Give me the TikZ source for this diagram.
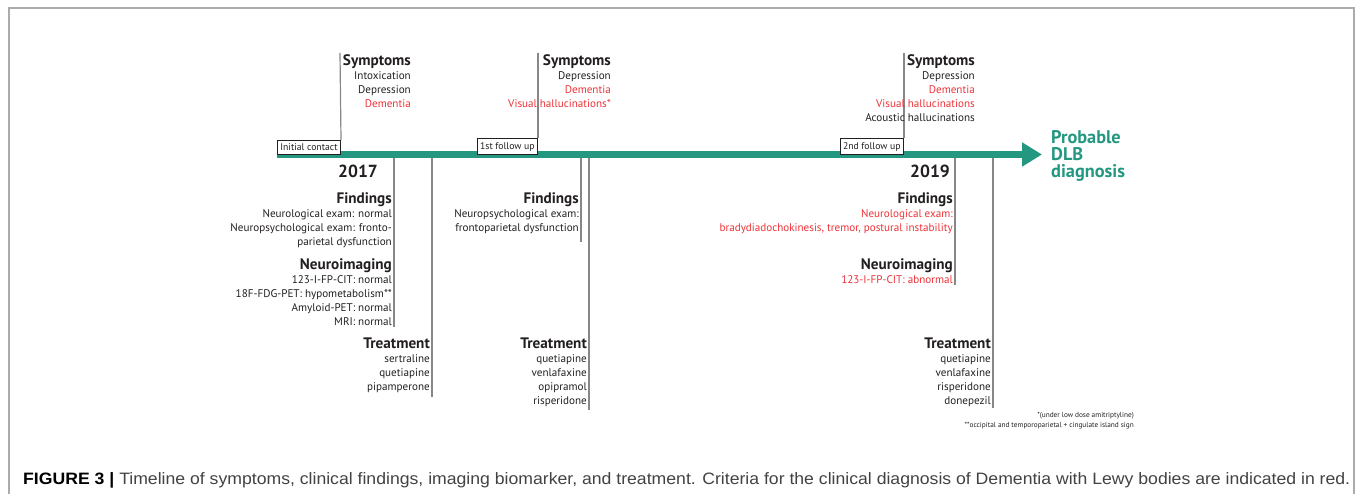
\documentclass[tikz,border=0pt]{standalone}
\usepackage{graphicx}
\usepackage{fontspec}
\setmainfont{PT Sans}
\newfontfamily\capfont{Liberation Sans}
\usetikzlibrary{arrows.meta}
\definecolor{dlbteal}{RGB}{35,151,127}
\definecolor{critred}{RGB}{237,50,55}
\definecolor{txt}{RGB}{35,31,32}
\definecolor{tickgray}{RGB}{135,135,135}
\tikzset{
  visit/.style={draw=txt, fill=white, line width=0.9pt, inner xsep=3pt, inner ysep=3.5pt, text=txt, font=\fontsize{9.7}{11}\selectfont},
  tick/.style={draw=tickgray, line width=1.2pt},
  info/.style={align=right, inner sep=0pt, text=txt, font=\fontsize{11.1}{14}\selectfont},
  year/.style={text=txt, font=\fontsize{17.5}{20}\selectfont\bfseries},
}
\newcommand{\hd}[1]{{\fontsize{15.2}{14}\selectfont\bfseries #1}}
\newcommand{\crit}[1]{\textcolor{critred}{#1}}
\begin{document}
\begin{tikzpicture}[x=1pt,y=-1pt]
	\useasboundingbox (0,0) rectangle (1355,494);
	\draw[tickgray!70, line width=1.2pt] (9,494) |- (1354,8) -- (1354,494);
	% ticks above and below the line
	\coordinate (tstart) at (277,154.5); \coordinate (tend) at (1042,154.5);
	\coordinate (s1) at (340,53); \coordinate (s2) at (538,53); \coordinate (s3) at (904,53);
	\coordinate (f1a) at (394,154); \coordinate (f1b) at (394,327);
	\coordinate (r1a) at (432,154); \coordinate (r1b) at (432,397);
	\coordinate (f2a) at (581,154); \coordinate (f2b) at (581,242);
	\coordinate (r2a) at (589,154); \coordinate (r2b) at (589,410);
	\coordinate (f3a) at (955,154); \coordinate (f3b) at (955,285);
	\coordinate (r3a) at (993,154); \coordinate (r3b) at (993,408);
	\draw[tick] (f1a) -- (f1b); \draw[tick] (r1a) -- (r1b);
	\draw[tick] (f2a) -- (f2b); \draw[tick] (r2a) -- (r2b);
	\draw[tick] (f3a) -- (f3b); \draw[tick] (r3a) -- (r3b);
	% timeline
	\node[anchor=west, inner sep=0pt, align=left, text=dlbteal, font=\fontsize{18.3}{17}\selectfont\bfseries] (diag) at (1051,156) {Probable\\DLB\\diagnosis};
	\draw[dlbteal, line width=7pt, -{Triangle[length=20pt,width=23pt]}] (tstart) -- (tend);
	\node[visit, anchor=south east] (v1) at (341,155) {Initial contact};
	\node[visit, anchor=south east] (v2) at (538,155) {1st follow up};
	\node[visit, anchor=south east] (v3) at (904,155) {2nd follow up};
	\draw[tick] (v1.north east) -- (s1);
	\draw[tick] (v2.north east) -- (s2);
	\draw[tick] (v3.north east) -- (s3);
	\node[year] (y2017) at (358,171) {2017};
	\node[year] (y2019) at (930,171) {2019};
	% symptoms
	\node[info, anchor=north east] (sym1) at (411,54) {\hd{Symptoms}\\Intoxication\\Depression\\\crit{Dementia}};
	\node[info, anchor=north east] (sym2) at (611,54) {\hd{Symptoms}\\Depression\\\crit{Dementia}\\\crit{Visual hallucinations*}};
	\node[info, anchor=north east] (sym3) at (975,54) {\hd{Symptoms}\\Depression\\\crit{Dementia}\\\crit{Visual hallucinations}\\Acoustic hallucinations};
	% findings, imaging, treatment
	\node[info, anchor=north east] (find1) at (392,192) {\hd{Findings}\\Neurological exam: normal\\Neuropsychological exam: fronto-\\parietal dysfunction};
	\node[info, anchor=north east] (img1) at (392,258) {\hd{Neuroimaging}\\123-I-FP-CIT: normal\\18F-FDG-PET: hypometabolism**\\Amyloid-PET: normal\\MRI: normal};
	\node[info, anchor=north east] (treat1) at (430,338) {\hd{Treatment}\\sertraline\\quetiapine\\pipamperone};
	\node[info, anchor=north east] (find2) at (579,192) {\hd{Findings}\\Neuropsychological exam:\\frontoparietal dysfunction};
	\node[info, anchor=north east] (treat2) at (587,338) {\hd{Treatment}\\quetiapine\\venlafaxine\\opipramol\\risperidone};
	\node[info, anchor=north east] (find3) at (953,192) {\hd{Findings}\\\crit{Neurological exam:}\\\crit{bradydiadochokinesis, tremor, postural instability}};
	\node[info, anchor=north east] (img3) at (953,258) {\hd{Neuroimaging}\\\crit{123-I-FP-CIT: abnormal}};
	\node[info, anchor=north east] (treat3) at (991,338) {\hd{Treatment}\\quetiapine\\venlafaxine\\risperidone\\donepezil};
	\node[anchor=north east, align=right, inner sep=0pt, text=txt, font=\fontsize{7.3}{10}\selectfont] (notes) at (1134,412) {*(under low dose amitriptyline)\\**occipital and temporoparietal + cingulate island sign};
	% caption
	\node[anchor=base west, inner sep=0pt, text=txt!85, font=\capfont\fontsize{16.5}{18}\selectfont] (cap) at (23,484) {\resizebox{1327pt}{\height}{\textcolor{black}{\textbf{FIGURE 3 |}} Timeline of symptoms, clinical findings, imaging biomarker, and treatment. Criteria for the clinical diagnosis of Dementia with Lewy bodies are indicated in red.}};
\end{tikzpicture}
\end{document}
